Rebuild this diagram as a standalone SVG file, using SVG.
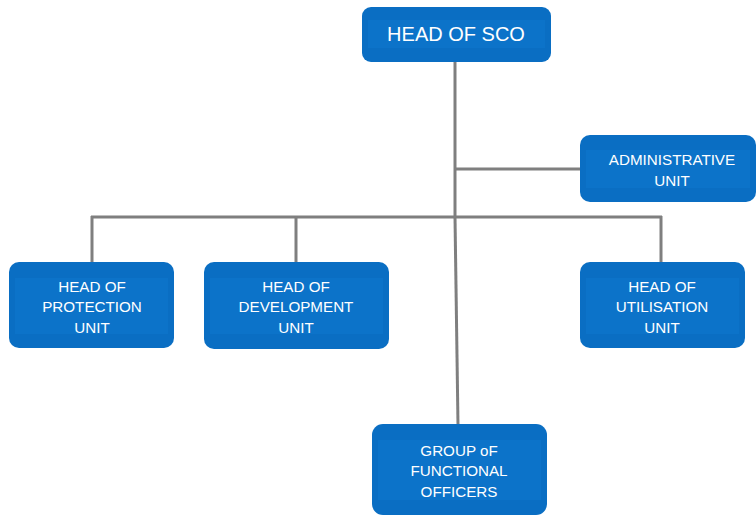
<svg xmlns="http://www.w3.org/2000/svg" width="756" height="517" viewBox="0 0 756 517">
  <style>
    .box { fill: #0A6EC3; }
    .inner { fill: #0C73C9; }
    .lbl { fill: #ffffff; font-family: "Liberation Sans", Arial, sans-serif; font-size: 15.2px; text-anchor: middle; }
    .big { font-size: 20px; }
    .wire { stroke: #7f7f7f; stroke-width: 3; fill: none; }
  </style>
  <g id="connectors">
    <line class="wire" x1="455" y1="61" x2="455" y2="217"/>
    <line class="wire" x1="455" y1="217" x2="458" y2="425"/>
    <line class="wire" x1="455" y1="169" x2="581" y2="169"/>
    <line class="wire" x1="91" y1="217" x2="662" y2="217"/>
    <line class="wire" x1="92" y1="216" x2="92" y2="263"/>
    <line class="wire" x1="296" y1="216" x2="296" y2="263"/>
    <line class="wire" x1="661" y1="216" x2="661" y2="263"/>
  </g>
  <g id="head-sco">
    <rect class="box" x="362" y="7" width="189" height="55" rx="9"/>
    <rect class="inner" x="368" y="20" width="177" height="28"/>
    <text class="lbl big" x="456" y="41">HEAD OF SCO</text>
  </g>
  <g id="admin-unit">
    <rect class="box" x="580" y="135" width="176" height="67" rx="10"/>
    <rect class="inner" x="586" y="150" width="164" height="38"/>
    <text class="lbl" x="672" y="165">ADMINISTRATIVE</text>
    <text class="lbl" x="672" y="186">UNIT</text>
  </g>
  <g id="protection-unit">
    <rect class="box" x="9" y="262" width="165" height="86" rx="10"/>
    <rect class="inner" x="15" y="278" width="153" height="56"/>
    <text class="lbl" x="92" y="292">HEAD OF</text>
    <text class="lbl" x="92" y="312">PROTECTION</text>
    <text class="lbl" x="92" y="333">UNIT</text>
  </g>
  <g id="development-unit">
    <rect class="box" x="204" y="262" width="185" height="87" rx="10"/>
    <rect class="inner" x="210" y="278" width="173" height="56"/>
    <text class="lbl" x="296" y="292">HEAD OF</text>
    <text class="lbl" x="296" y="312">DEVELOPMENT</text>
    <text class="lbl" x="296" y="333">UNIT</text>
  </g>
  <g id="utilisation-unit">
    <rect class="box" x="580" y="262" width="165" height="86" rx="10"/>
    <rect class="inner" x="586" y="278" width="153" height="56"/>
    <text class="lbl" x="662" y="292">HEAD OF</text>
    <text class="lbl" x="662" y="312">UTILISATION</text>
    <text class="lbl" x="662" y="333">UNIT</text>
  </g>
  <g id="functional-officers">
    <rect class="box" x="372" y="424" width="175" height="91" rx="11"/>
    <rect class="inner" x="378" y="440" width="163" height="60"/>
    <text class="lbl" x="459" y="456">GROUP oF</text>
    <text class="lbl" x="459" y="476">FUNCTIONAL</text>
    <text class="lbl" x="459" y="497">OFFICERS</text>
  </g>
</svg>
